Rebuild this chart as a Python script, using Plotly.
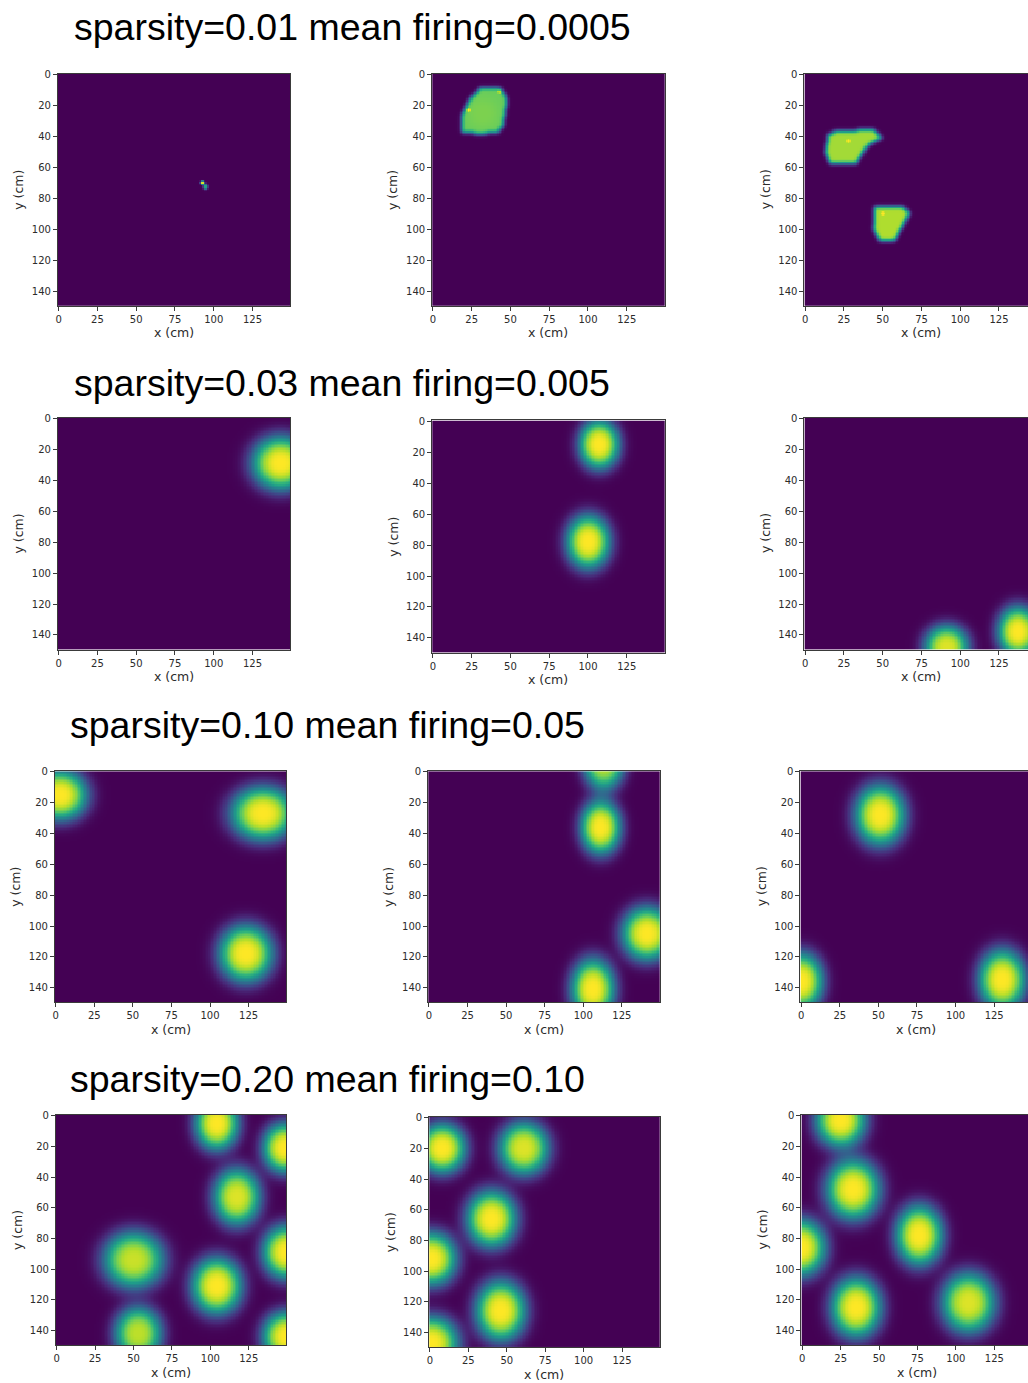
import numpy as np
import plotly.graph_objects as go

# ---------------------------------------------------------------------------
# Data: simulated place-field rate maps on a 150 x 150 cm arena (1 cm bins)
# ---------------------------------------------------------------------------
N_BINS = 150
X_TICKS = [0, 25, 50, 75, 100, 125]
Y_TICKS = [0, 20, 40, 60, 80, 100, 120, 140]
X_LABEL = "x (cm)"
Y_LABEL = "y (cm)"

ROW_TITLES = [
    "sparsity=0.01 mean firing=0.0005",
    "sparsity=0.03 mean firing=0.005",
    "sparsity=0.10 mean firing=0.05",
    "sparsity=0.20 mean firing=0.10",
]

# Flat-topped fields (polygon outline in cm, plateau rate) for the sparsest row
POLY_R1C2 = [[(30, 9), (43, 8.5), (48, 15.5), (45, 33), (42, 37), (31, 38.5), (19, 37), (18.5, 26), (24, 15.5)]]
LEVEL_R1C2 = [0.77]
POLY_R1C3 = [
    [(15, 39), (19, 37), (34, 36), (44, 35), (49, 41), (40, 46), (33, 57), (16, 58), (13, 50)],
    [(45, 86), (63, 85), (67, 90), (57, 108), (48, 107), (44, 99)],
]
LEVEL_R1C3 = [0.86, 0.88]

# Bump fields: (x centre, y centre, width x, width y, peak rate)
SPOTS_R1C1 = [(92.5, 70, 1.0, 0.9, 1.0), (94.5, 72.5, 1.1, 1.6, 0.62)]
SPOTS_R1C2 = [(23, 23, 1.0, 1.0, 0.25), (43, 11, 1.0, 1.0, 0.25), (32, 25, 8.0, 8.0, 0.03)]
SPOTS_R1C3 = [(28, 43, 1.0, 1.0, 0.15), (50, 90, 1.0, 1.0, 0.15)]

FIELDS_R2C1 = [(143, 29, 14.8, 13.9, 1.0)]
FIELDS_R2C2 = [(107, 15, 10.4, 12.7, 1.0), (100, 78, 11.3, 13.9, 1.0)]
FIELDS_R2C3 = [(91, 148, 11.3, 11.3, 0.95), (137, 138, 10.4, 13.0, 1.0)]

FIELDS_R3C1 = [(3, 15, 13.9, 13.0, 1.0), (134, 27, 16.5, 13.9, 1.0), (123, 118, 13.9, 14.8, 1.0)]
FIELDS_R3C2 = [(113, -6, 10.5, 14.0, 0.9), (111, 36, 10.4, 14.0, 1.0), (141, 105, 13.0, 13.9, 1.0),
               (106, 141, 11.3, 15.7, 1.0)]
FIELDS_R3C3 = [(51, 28, 13.0, 15.7, 1.0), (0, 136, 11.3, 14.8, 1.0), (130, 135, 12.2, 15.7, 1.0)]

FIELDS_R4C1 = [(104, 5, 11.3, 13.9, 1.0), (148, 21, 11.3, 13.0, 1.0), (117, 53, 12.2, 14.8, 0.95),
               (149, 89, 12.2, 13.9, 1.0), (50, 94, 15.7, 14.8, 0.92), (104, 111, 13.0, 14.8, 1.0),
               (53, 142, 12.2, 13.9, 0.9), (149, 144, 12.2, 13.0, 1.0)]
FIELDS_R4C2 = [(8, 20, 12.2, 13.0, 1.0), (61, 20, 13.0, 13.9, 0.95), (40, 66, 13.0, 14.8, 1.0),
               (1, 92, 13.0, 13.9, 1.0), (46, 126, 13.0, 15.7, 1.0), (1, 147, 13.9, 13.9, 1.0)]
FIELDS_R4C3 = [(25, 3, 13.0, 13.9, 1.0), (33, 48, 13.9, 15.7, 1.0), (-1, 86, 13.0, 14.8, 1.0),
               (76, 78, 12.2, 15.7, 1.0), (35, 125, 13.0, 15.7, 1.0), (108, 122, 13.9, 15.7, 0.95)]

# ---------------------------------------------------------------------------
# Rate-map construction
# ---------------------------------------------------------------------------
xs = np.arange(N_BINS)
X, Y = np.meshgrid(xs, xs)
BUMP_POWER = 1.5   # >1 gives flatter-topped fields with steeper flanks


def bump_map(fields):
    z = np.zeros((N_BINS, N_BINS))
    for cx, cy, sx, sy, peak in fields:
        q = (X - cx) ** 2 / sx ** 2 + (Y - cy) ** 2 / sy ** 2
        z += peak * np.exp(-0.5 * q ** BUMP_POWER)
    return np.clip(z, 0, 1)


def inside_polygon(poly):
    res = np.zeros(X.shape, dtype=bool)
    j = len(poly) - 1
    for i in range(len(poly)):
        xi, yi = poly[i]
        xj, yj = poly[j]
        cross = ((yi > Y) != (yj > Y)) & (X < (xj - xi) * (Y - yi) / (yj - yi + 1e-12) + xi)
        res ^= cross
        j = i
    return res


def smooth(z, s):
    r = int(3 * s) + 1
    k = np.exp(-0.5 * (np.arange(-r, r + 1) / s) ** 2)
    k /= k.sum()
    z = np.apply_along_axis(lambda v: np.convolve(v, k, mode="same"), 0, z)
    z = np.apply_along_axis(lambda v: np.convolve(v, k, mode="same"), 1, z)
    return z


def polygon_map(polys, levels, spots):
    z = np.zeros((N_BINS, N_BINS))
    for poly, lev in zip(polys, levels):
        z = np.maximum(z, inside_polygon(poly) * lev)
    mask = z > 0
    z = smooth(z, 1.3)
    return np.clip(z + bump_map(spots) * smooth(mask.astype(float), 1.3), 0, 1)


maps = [
    [bump_map(SPOTS_R1C1), polygon_map(POLY_R1C2, LEVEL_R1C2, SPOTS_R1C2),
     polygon_map(POLY_R1C3, LEVEL_R1C3, SPOTS_R1C3)],
    [bump_map(FIELDS_R2C1), bump_map(FIELDS_R2C2), bump_map(FIELDS_R2C3)],
    [bump_map(FIELDS_R3C1), bump_map(FIELDS_R3C2), bump_map(FIELDS_R3C3)],
    [bump_map(FIELDS_R4C1), bump_map(FIELDS_R4C2), bump_map(FIELDS_R4C3)],
]

# ---------------------------------------------------------------------------
# Page layout (pixels): panel left, top, side length
# ---------------------------------------------------------------------------
W, H = 1028, 1383
PANELS = [
    [(56, 69, 233), (431, 69, 233), (804, 69, 233)],
    [(56, 414, 233), (431, 417, 233), (804, 414, 233)],
    [(53, 769, 232), (427, 769, 232), (800, 769, 232)],
    [(54, 1114, 231), (428, 1116, 231), (801, 1114, 231)],
]
TITLE_POS = [(70, 22), (70, 379), (66, 723), (66, 1078)]

fig = go.Figure()
annotations = []
axis_font = dict(family="DejaVu Sans", size=10, color="#2b2b2b")
label_font = dict(family="DejaVu Sans", size=12.5, color="#2b2b2b")

k = 0
for r in range(4):
    for c in range(3):
        k += 1
        left, top, side = PANELS[r][c]
        right = min(left + side, W)
        x_hi = -0.5 + (right - left) * N_BINS / side
        xa = "x" if k == 1 else f"x{k}"
        ya = "y" if k == 1 else f"y{k}"
        fig.add_trace(go.Heatmap(
            z=maps[r][c], x=xs, y=xs, colorscale="Viridis", zmin=0, zmax=1,
            showscale=False, xaxis=xa, yaxis=ya, hoverinfo="skip",
        ))
        common = dict(showgrid=False, zeroline=False, showline=True, linecolor="#3a3a3a",
                      linewidth=1, ticks="outside", ticklen=4, tickwidth=1, tickcolor="#3a3a3a",
                      tickfont=axis_font)
        fig.layout[f"xaxis{k if k > 1 else ''}"] = dict(
            domain=[left / W, right / W], range=[-0.5, x_hi], anchor=ya,
            tickvals=X_TICKS, mirror=True, **common)
        fig.layout[f"yaxis{k if k > 1 else ''}"] = dict(
            domain=[1 - (top + side) / H, 1 - top / H], range=[N_BINS - 0.5, -0.5], anchor=xa,
            tickvals=Y_TICKS, mirror=(c < 2), **common)
        annotations.append(dict(
            text=X_LABEL, x=(left + side / 2) / W, y=1 - (top + side + 27) / H,
            xref="paper", yref="paper", xanchor="center", yanchor="middle",
            showarrow=False, font=label_font))
        annotations.append(dict(
            text=Y_LABEL, x=(left - 39) / W, y=1 - (top + side / 2) / H,
            xref="paper", yref="paper", xanchor="center", yanchor="middle",
            showarrow=False, textangle=-90, font=label_font))

for (tx, ty), title in zip(TITLE_POS, ROW_TITLES):
    annotations.append(dict(
        text=title, x=tx / W, y=1 - ty / H, xref="paper", yref="paper",
        xanchor="left", yanchor="middle", showarrow=False,
        font=dict(family="Liberation Sans", size=37.5, color="#000000")))

fig.update_layout(
    width=W, height=H, margin=dict(l=0, r=0, t=0, b=0),
    paper_bgcolor="white", plot_bgcolor="white",
    showlegend=False, annotations=annotations,
)

fig.write_html("out.html")
